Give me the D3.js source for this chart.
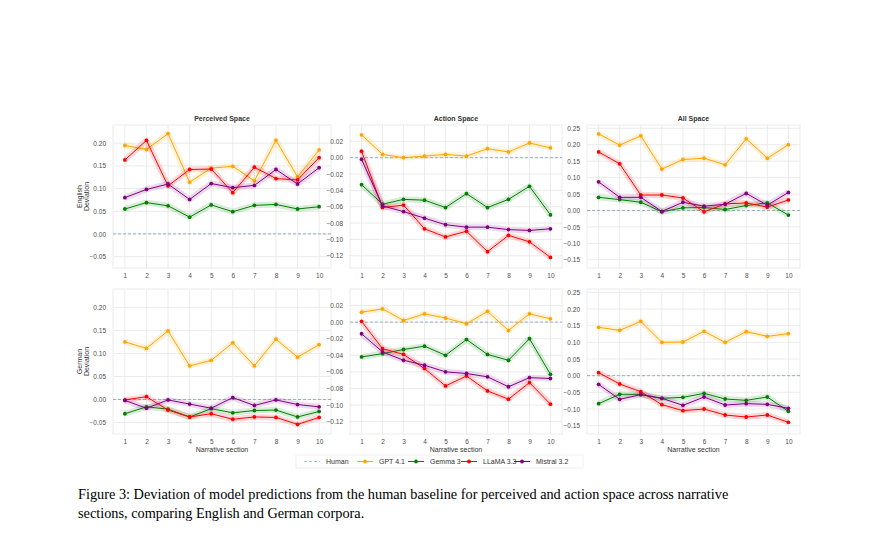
<!DOCTYPE html>
<html><head><meta charset="utf-8">
<script src="https://cdn.jsdelivr.net/npm/d3@7"></script>
<style>body{margin:0;background:#fff}</style>
</head><body>
<div id="chart-area"></div>
<script>
// sections and model series, [row][col] = English/German x Perceived/Action/All
var sections = [1,2,3,4,5,6,7,8,9,10];
var models = ["GPT 4.1","Gemma 3","LLaMA 3.3","Mistral 3.2"];
var colors = ["#ffa500","#008000","#ff0000","#800080"];
var columns = ["Perceived Space","Action Space","All Space"];
var rows = ["English","German"];

var enPerceived = [
  [.195,.186,.221,.114,.145,.149,.117,.206,.126,.185],
  [.055,.069,.062,.037,.064,.049,.063,.065,.055,.060],
  [.163,.206,.106,.142,.143,.091,.147,.122,.119,.168],
  [.080,.098,.110,.076,.111,.102,.107,.142,.110,.146]];
var enAction = [
  [.028,.004,.000,.002,.004,.002,.011,.007,.018,.012],
  [-.033,-.057,-.051,-.052,-.061,-.044,-.061,-.051,-.035,-.070],
  [.008,-.061,-.058,-.087,-.097,-.090,-.115,-.095,-.103,-.122],
  [-.002,-.059,-.066,-.074,-.082,-.085,-.085,-.088,-.089,-.087]];
var enAll = [
  [.233,.199,.227,.126,.155,.159,.139,.218,.159,.200],
  [.040,.033,.025,-.004,.008,.009,.003,.015,.023,-.014],
  [.178,.142,.047,.047,.038,-.004,.020,.023,.010,.032],
  [.087,.040,.040,-.003,.025,.013,.019,.052,.016,.055]];
var dePerceived = [
  [.125,.111,.149,.073,.085,.123,.073,.131,.092,.119],
  [-.031,-.016,-.021,-.038,-.020,-.029,-.024,-.023,-.038,-.026],
  [-.001,.006,-.023,-.038,-.031,-.043,-.038,-.039,-.054,-.039],
  [-.002,-.019,-.001,-.010,-.019,.004,-.013,-.001,-.011,-.016]];
var deAction = [
  [.012,.016,.002,.010,.005,-.002,.013,-.010,.010,.004],
  [-.042,-.038,-.033,-.029,-.040,-.021,-.039,-.046,-.020,-.063],
  [.001,-.032,-.039,-.056,-.077,-.065,-.083,-.093,-.073,-.099],
  [-.014,-.036,-.046,-.052,-.060,-.062,-.066,-.078,-.067,-.068]];
var deAll = [
  [.145,.136,.163,.100,.101,.133,.100,.132,.118,.126],
  [-.084,-.056,-.056,-.068,-.065,-.053,-.070,-.074,-.064,-.107],
  [.009,-.025,-.048,-.087,-.105,-.100,-.118,-.124,-.118,-.140],
  [-.026,-.071,-.057,-.068,-.089,-.064,-.088,-.084,-.086,-.098]];

var panelData = [[enPerceived,enAction,enAll],[dePerceived,deAction,deAll]];
var yDomains = [[-0.075,0.24],[-0.135,0.04],[-0.175,0.26]];
var yTicks = [
  [-0.05,0,0.05,0.10,0.15,0.20],
  [-0.12,-0.10,-0.08,-0.06,-0.04,-0.02,0,0.02],
  [-0.15,-0.10,-0.05,0,0.05,0.10,0.15,0.20,0.25]];

var W = 877, H = 546;
var svg = d3.select("#chart-area").append("svg").attr("width",W).attr("height",H)
  .style("font-family","Liberation Sans, Arial, sans-serif");

var colX = [[113,331],[350,562],[587,800]];
var rowY = [[125,268],[289,434]];

rows.forEach(function(rname, r){
  columns.forEach(function(cname, c){
    var x = d3.scaleLinear().domain([0.45,10.55]).range(colX[c]);
    var y = d3.scaleLinear().domain(yDomains[c]).range([rowY[r][1],rowY[r][0]]);
    var g = svg.append("g");
    // grid
    g.selectAll(".gx").data(sections).enter().append("line")
      .attr("x1",function(d){return x(d);}).attr("x2",function(d){return x(d);})
      .attr("y1",rowY[r][0]).attr("y2",rowY[r][1]).attr("stroke","#e6e6e6").attr("stroke-width",0.8);
    g.selectAll(".gy").data(yTicks[c]).enter().append("line")
      .attr("x1",colX[c][0]).attr("x2",colX[c][1])
      .attr("y1",function(d){return y(d);}).attr("y2",function(d){return y(d);})
      .attr("stroke","#e6e6e6").attr("stroke-width",0.8);
    g.append("rect").attr("x",colX[c][0]).attr("y",rowY[r][0])
      .attr("width",colX[c][1]-colX[c][0]).attr("height",rowY[r][1]-rowY[r][0])
      .attr("fill","none").attr("stroke","#ececec");
    // axes
    var ya = g.append("g").attr("transform","translate("+colX[c][0]+",0)")
      .call(d3.axisLeft(y).tickValues(yTicks[c]).tickSize(0).tickPadding(7)
        .tickFormat(function(d){return d3.format(".2f")(d).replace("-","\u2212");}));
    var xa = g.append("g").attr("transform","translate(0,"+rowY[r][1]+")")
      .call(d3.axisBottom(x).tickValues(sections).tickSize(0).tickPadding(5).tickFormat(d3.format("d")));
    [ya,xa].forEach(function(a){
      a.select(".domain").remove();
      a.selectAll("text").attr("fill","#4d4d4d").style("font-size","6.5px");
    });
    // human baseline
    g.append("line").attr("x1",colX[c][0]).attr("x2",colX[c][1])
      .attr("y1",y(0)).attr("y2",y(0)).attr("stroke","#7f9fbf")
      .attr("stroke-dasharray","3,2").attr("stroke-width",0.8);
    var line = d3.line().x(function(d,i){return x(sections[i]);}).y(function(d){return y(d);});
    panelData[r][c].forEach(function(series, m){
      g.append("path").attr("d",line(series)).attr("fill","none")
        .attr("stroke",colors[m]).attr("stroke-opacity",0.15).attr("stroke-width",6)
        .attr("stroke-linejoin","round");
      g.append("path").attr("d",line(series)).attr("fill","none")
        .attr("stroke",colors[m]).attr("stroke-width",1);
      g.selectAll(".pt"+m).data(series).enter().append("circle")
        .attr("cx",function(d,i){return x(sections[i]);}).attr("cy",function(d){return y(d);})
        .attr("r",1.9).attr("fill",colors[m]);
    });
    if (r===0) svg.append("text").attr("x",(colX[c][0]+colX[c][1])/2).attr("y",121)
      .attr("text-anchor","middle").style("font-size","7px").style("font-weight","bold")
      .attr("fill","#333").text(cname);
    if (r===1) svg.append("text").attr("x",(colX[c][0]+colX[c][1])/2).attr("y",452)
      .attr("text-anchor","middle").style("font-size","7px").attr("fill","#333").text("Narrative section");
    if (c===0) {
      var cy = (rowY[r][0]+rowY[r][1])/2;
      var t = svg.append("text").attr("transform","translate(83,"+cy+") rotate(-90)")
        .attr("text-anchor","middle").style("font-size","7px").attr("fill","#333");
      t.append("tspan").attr("x",0).attr("dy","-0.2em").text(rname);
      t.append("tspan").attr("x",0).attr("dy","1.1em").text("Deviation");
    }
  });
});

// legend
var legItems = [{name:"Human",color:"#a8c4dc",dash:true}].concat(models.map(function(m,i){return {name:m,color:colors[i]};}));
var legX = [300,353,404,457,510];
svg.append("rect").attr("x",296).attr("y",455).attr("width",287).attr("height",13)
  .attr("fill","#fff").attr("stroke","#f0f0f0");
legItems.forEach(function(d,i){
  var lg = svg.append("g").attr("transform","translate("+legX[i]+",461.5)");
  lg.append("line").attr("x1",4).attr("x2",20).attr("stroke",d.color).attr("stroke-width",1)
    .attr("stroke-dasharray",d.dash?"3,2":null);
  if(!d.dash) lg.append("circle").attr("cx",12).attr("r",1.9).attr("fill",d.color);
  lg.append("text").attr("x",26).attr("y",2.5).style("font-size","7px").attr("fill","#333").text(d.name);
});

// caption
var cap = svg.append("text").style("font-family","Liberation Serif, Times New Roman, serif")
  .style("font-size","14.3px").attr("fill","#000");
cap.append("tspan").attr("x",78).attr("y",499)
  .text("Figure 3: Deviation of model predictions from the human baseline for perceived and action space across narrative");
cap.append("tspan").attr("x",78).attr("y",518)
  .text("sections, comparing English and German corpora.");
</script>
</body></html>
